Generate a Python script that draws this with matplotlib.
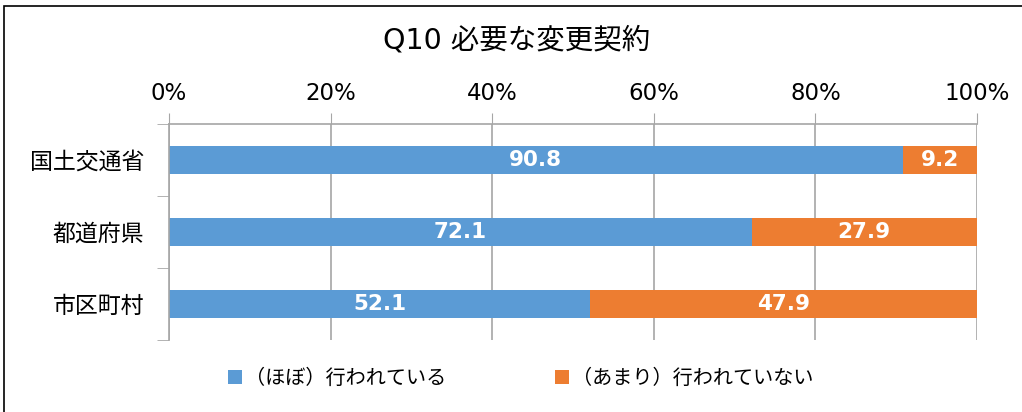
import numpy as np
import matplotlib
matplotlib.use("Agg")
import matplotlib.pyplot as plt
from matplotlib.patches import Rectangle

# DejaVu for latin/digits (Verdana-like, close to Meiryo), Noto CJK for Japanese
plt.rcParams['font.family'] = ['DejaVu Sans', 'Noto Sans CJK JP']

title = "Q10 必要な変更契約"
categories = ["国土交通省", "都道府県", "市区町村"]
series_names = ["（ほぼ）行われている", "（あまり）行われていない"]
done = [90.8, 72.1, 52.1]
not_done = [9.2, 27.9, 47.9]
xticks = [0, 20, 40, 60, 80, 100]
colors = ["#5B9BD5", "#ED7D31"]

W, H = 1022, 412
fig = plt.figure(figsize=(W / 100, H / 100), dpi=100)
ax = fig.add_axes([169 / W, 1 - 340 / H, (977 - 169) / W, (340 - 124) / H])

y = np.arange(len(categories))
b1 = ax.barh(y, done, height=0.4, color=colors[0], label=series_names[0])
b2 = ax.barh(y, not_done, left=done, height=0.4, color=colors[1], label=series_names[1])
for bars, vals, lefts in [(b1, done, [0] * 3), (b2, not_done, done)]:
    for yi, v, l in zip(y, vals, lefts):
        ax.text(l + v / 2, yi, f"{v:.1f}", ha="center", va="center", color="white",
                fontsize=15.5, fontweight="bold")

ax.set_xlim(0, 100)
ax.set_ylim(2.5, -0.5)
ax.xaxis.tick_top()
ax.set_xticks(xticks)
ax.set_xticklabels([f"{t}%" for t in xticks], fontsize=16.5)
ax.tick_params(axis="x", length=8, color="#A6A6A6", pad=6)
ax.set_yticks(y)
ax.set_yticklabels(categories, fontsize=16.5)
ax.tick_params(axis="y", which="major", length=0, pad=18)
ax.set_yticks([-0.5, 0.5, 1.5, 2.5], minor=True)
ax.tick_params(axis="y", which="minor", length=9, color="#A6A6A6")
ax.grid(axis="x", color="#A6A6A6", lw=1.2)
ax.set_axisbelow(True)
for s in ["right", "bottom"]:
    ax.spines[s].set_visible(False)
for s in ["top", "left"]:
    ax.spines[s].set_color("#A6A6A6")
    ax.spines[s].set_linewidth(1.2)

fig.text(517 / W, 1 - 40 / H, title, ha="center", va="center", fontsize=20.5)
fig.legend(handles=[b1, b2], loc="center", bbox_to_anchor=(521 / W, 1 - 378 / H), ncol=2,
           frameon=False, fontsize=14.5, handlelength=0.7, handleheight=0.7,
           columnspacing=5.4, handletextpad=0.15)

fig.patches.append(Rectangle((4 / W, -0.1), 1.2, 1 - 6 / H + 0.1, transform=fig.transFigure,
                             fill=False, edgecolor="black", lw=1.2))
fig.savefig("out.png", dpi=100)
